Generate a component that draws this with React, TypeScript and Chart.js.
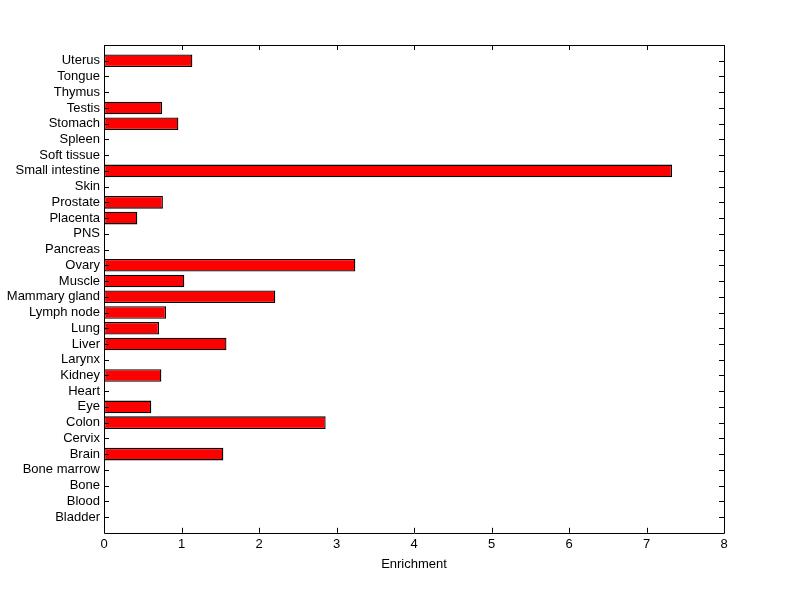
import React, { useEffect, useRef } from "react";
import { Chart, registerables } from "chart.js";

Chart.register(...registerables);

const categories = [
  "Bladder", "Blood", "Bone", "Bone marrow", "Brain", "Cervix", "Colon", "Eye",
  "Heart", "Kidney", "Larynx", "Liver", "Lung", "Lymph node", "Mammary gland",
  "Muscle", "Ovary", "Pancreas", "PNS", "Placenta", "Prostate", "Skin",
  "Small intestine", "Soft tissue", "Spleen", "Stomach", "Testis", "Thymus",
  "Tongue", "Uterus",
];

const enrichment = [
  0, 0, 0, 0, 1.54, 0, 2.86, 0.61,
  0, 0.74, 0, 1.58, 0.71, 0.8, 2.21,
  1.036, 3.243, 0, 0, 0.43, 0.76, 0,
  7.33, 0, 0, 0.96, 0.75, 0,
  0, 1.14,
];

const xTicks = [0, 1, 2, 3, 4, 5, 6, 7, 8];

const FONT = { family: "'Liberation Sans', Arial, sans-serif", size: 13 };

const framePlugin = {
  id: "frame",
  afterDraw(chart: any) {
    const { ctx, chartArea: a, scales } = chart;
    const tl = 5;
    ctx.save();
    ctx.strokeStyle = "#000";
    ctx.lineWidth = 1;
    ctx.beginPath();
    ctx.rect(Math.round(a.left) + 0.5, Math.round(a.top) + 0.5, Math.round(a.right - a.left), Math.round(a.bottom - a.top));
    ctx.stroke();
    ctx.beginPath();
    scales.x.ticks.forEach((t: any) => {
      const px = Math.round(scales.x.getPixelForValue(t.value)) + 0.5;
      ctx.moveTo(px, a.bottom);
      ctx.lineTo(px, a.bottom - tl);
      ctx.moveTo(px, a.top);
      ctx.lineTo(px, a.top + tl);
    });
    scales.y.ticks.forEach((t: any) => {
      if (t.value < 1 || t.value > categories.length) return;
      const py = Math.round(scales.y.getPixelForValue(t.value)) + 0.5;
      ctx.moveTo(a.left, py);
      ctx.lineTo(a.left + tl, py);
      ctx.moveTo(a.right, py);
      ctx.lineTo(a.right - tl, py);
    });
    ctx.stroke();
    ctx.restore();
  },
};

export default function App() {
  const ref = useRef<HTMLCanvasElement>(null);
  useEffect(() => {
    if (!ref.current) return;
    const data = categories.map((c, i) => ({
      x: enrichment[i] > 0 ? enrichment[i] : null,
      y: i + 1,
    }));
    const chart = new Chart(ref.current, {
      type: "bar",
      data: {
        datasets: [
          {
            data: data as any,
            backgroundColor: "#ff0000",
            borderColor: "#000000",
            borderWidth: 1.3,
            borderSkipped: false,
            barPercentage: 0.8,
            categoryPercentage: 1,
          },
        ],
      },
      options: {
        indexAxis: "y",
        animation: false,
        responsive: false,
        maintainAspectRatio: false,
        layout: { padding: { left: 0, right: 76, top: 45, bottom: 27 } },
        plugins: { legend: { display: false }, tooltip: { enabled: false } },
        scales: {
          x: {
            type: "linear",
            min: xTicks[0],
            max: xTicks[xTicks.length - 1],
            afterBuildTicks: (s: any) => {
              s.ticks = xTicks.map((v) => ({ value: v }));
            },
            grid: { display: false, drawTicks: false },
            border: { display: false },
            ticks: { color: "#000", font: FONT, padding: 4, maxRotation: 0 },
            title: {
              display: true,
              text: "Enrichment",
              color: "#000",
              font: FONT,
              padding: { top: 0, bottom: 0 },
            },
          },
          y: {
            type: "linear",
            offset: false,
            min: 0,
            max: categories.length + 1,
            afterBuildTicks: (s: any) => {
              s.ticks = categories.map((_, i) => ({ value: i + 1 }));
            },
            afterFit: (s: any) => {
              s.width = 104;
            },
            grid: { display: false, drawTicks: false, offset: false },
            border: { display: false },
            ticks: {
              color: "#000",
              font: FONT,
              padding: 4,
              autoSkip: false,
              callback: (v: any) => categories[Number(v) - 1] ?? "",
            },
          },
        },
      },
      plugins: [framePlugin],
    });
    return () => chart.destroy();
  }, []);
  return (
    <div style={{ position: "absolute", left: 0, top: 0, width: 800, height: 599, background: "#fff" }}>
      <canvas ref={ref} width={800} height={599} style={{ width: 800, height: 599 }} />
    </div>
  );
}
